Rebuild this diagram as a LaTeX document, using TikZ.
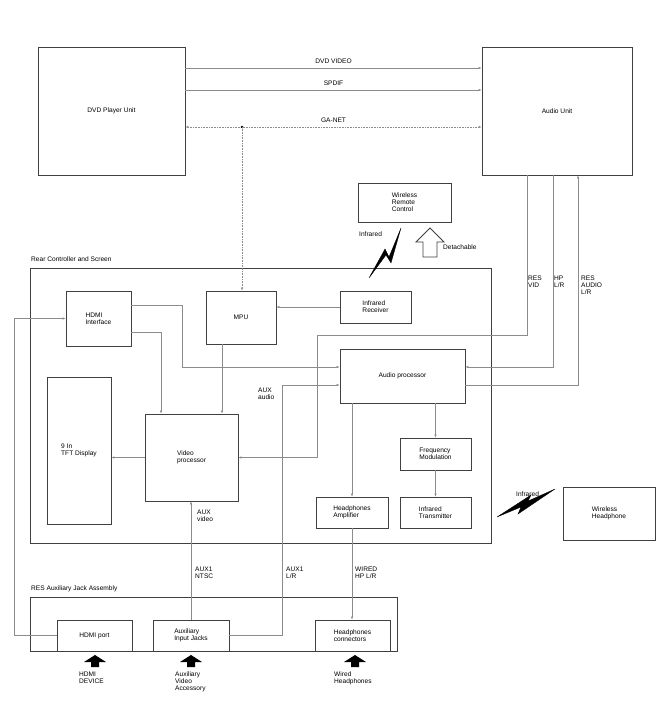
\documentclass[tikz,border=0pt]{standalone}
\usepackage{fontspec}
\setmainfont{Liberation Sans}
\usetikzlibrary{arrows.meta}
\tikzset{
	blk/.style={draw=black!75, line width=.8pt, align=left, inner sep=1pt, font=\fontsize{6.6}{7}\selectfont},
	grp/.style={draw=black!75, line width=.8pt},
	lbl/.style={anchor=north west, align=left, inner sep=0pt, font=\fontsize{6.6}{7}\selectfont},
	sig/.style={draw=black!45, line width=.45pt, -{Latex[length=3pt,width=2.4pt]}},
	bolt/.style={fill=black, draw=black, line width=.3pt},
}
\begin{document}
\begin{tikzpicture}[x=1pt, y=-1pt]
	\useasboundingbox (0,0) rectangle (667,708);
	% units
	\node[blk, minimum width=147pt, minimum height=128pt] (dvd)   at (111.5,111) {DVD Player Unit};
	\node[blk, minimum width=150pt, minimum height=128pt] (audio) at (557,111)   {Audio Unit};
	\node[blk, minimum width=93pt,  minimum height=39pt]  (wrc)   at (404.5,202.5) {Wireless\\Remote\\Control};
	\node[blk, minimum width=92pt,  minimum height=53pt]  (wh)    at (609,513.5) {Wireless\\Headphone};
	% rear controller and screen
	\draw[grp] (30,268) rectangle (491,543);
	\node[lbl] at (31,257) {Rear Controller and Screen};
	\node[blk, minimum width=65pt,  minimum height=55pt]  (hdmi) at (98.5,318.5) {HDMI\\Interface};
	\node[blk, minimum width=70pt,  minimum height=53pt]  (mpu)  at (241,317.5)  {MPU};
	\node[blk, minimum width=71pt,  minimum height=32pt]  (irr)  at (375.5,307)  {Infrared\\Receiver};
	\node[blk, minimum width=125pt, minimum height=54pt]  (ap)   at (402.5,376)  {Audio processor};
	\node[blk, minimum width=64pt,  minimum height=147pt] (tft)  at (79,450.5)   {9 In\\TFT Display};
	\node[blk, minimum width=93pt,  minimum height=87pt]  (vp)   at (191.5,457.5) {Video\\processor};
	\node[blk, minimum width=71pt,  minimum height=32pt]  (fm)   at (435.5,454)  {Frequency\\Modulation};
	\node[blk, minimum width=72pt,  minimum height=31pt]  (ha)   at (352,512.5)  {Headphones\\Amplifier};
	\node[blk, minimum width=71pt,  minimum height=31pt]  (it)   at (435.5,512.5) {Infrared\\Transmitter};
	% jack assembly
	\draw[grp] (30,597) rectangle (397,651);
	\node[lbl] at (31,586) {RES Auxiliary Jack Assembly};
	\node[blk, minimum width=75pt, minimum height=31pt] (hp)  at (94.5,635.5) {HDMI port};
	\node[blk, minimum width=76pt, minimum height=31pt] (aij) at (191,635.5)  {Auxiliary\\Input Jacks};
	\node[blk, minimum width=75pt, minimum height=31pt] (hc)  at (352.5,635.5) {Headphones\\connectors};
	% dvd to audio unit
	\draw[sig] ([yshift=43pt]dvd.east) -- ([yshift=43pt]audio.west) node[midway, above=1pt, font=\fontsize{6.6}{7}\selectfont]{DVD VIDEO};
	\draw[sig] ([yshift=21pt]dvd.east) -- ([yshift=21pt]audio.west) node[midway, above=1pt, font=\fontsize{6.6}{7}\selectfont]{SPDIF};
	\draw[sig, {Latex[length=3pt,width=2.4pt]}-{Latex[length=3pt,width=2.4pt]}, dash pattern=on 1pt off .6pt] ([yshift=-16pt]dvd.east) -- ([yshift=-16pt]audio.west) node[midway, above=1pt, font=\fontsize{6.6}{7}\selectfont]{GA-NET};
	\coordinate (ganet) at (242,127);
	\fill (ganet) circle (1.4pt);
	\draw[sig, dash pattern=on 1pt off .6pt] (ganet) -- (ganet |- mpu.north);
	% inside connections
	\draw[sig] (hp.west) -- ++(-42,0) |- (hdmi.west);
	\draw[sig] ([yshift=13.5pt]hdmi.east) -- ++(51,0) |- ([yshift=9pt]ap.west);
	\draw[sig] ([yshift=-13.5pt]hdmi.east) -| ([xshift=-30.5pt]vp.north);
	\draw[sig] ([xshift=-19pt]mpu.south) -- ([xshift=-19pt]mpu.south |- vp.north);
	\draw[sig] (irr.west) -- (irr.west -| mpu.east);
	\draw[sig] ([xshift=-30pt]audio.south) -- ++(0,160) -- ++(-210,0) |- (vp.east);
	\draw[sig] ([xshift=-4pt]audio.south) |- ([yshift=9pt]ap.east);
	\draw[sig] ([yshift=-9pt]ap.east) -| ([xshift=21pt]audio.south);
	\draw[sig] (aij.east) -- ++(53,0) |- ([yshift=-9pt]ap.west);
	\draw[sig] (aij.north) -- (aij.north |- vp.south);
	\draw[sig] ([xshift=-50.5pt]ap.south) -- ([xshift=-50.5pt]ap.south |- ha.north);
	\draw[sig] ([xshift=33pt]ap.south) -- (fm.north);
	\draw[sig] (fm.south) -- (it.north);
	\draw[sig] (ha.south) -- (ha.south |- hc.north);
	\draw[sig] (vp.west) -- (vp.west -| tft.east);
	% signal labels
	\node[lbl] at (528,276) {RES\\VID};
	\node[lbl] at (554,276) {HP\\L/R};
	\node[lbl] at (581,276) {RES\\AUDIO\\L/R};
	\node[lbl] at (258,388) {AUX\\audio};
	\node[lbl] at (197,510) {AUX\\video};
	\node[lbl] at (195,567) {AUX1\\NTSC};
	\node[lbl] at (286,567) {AUX1\\L/R};
	\node[lbl] at (355,567) {WIRED\\HP L/R};
	% wireless links
	\fill[bolt] (369,278) -- (385,249) -- (389,257) -- (401,228) -- (391,263) -- (386,255) -- cycle;
	\node[lbl] at (359,232) {Infrared};
	\fill[bolt] (497,517) -- (521,507) -- (518,514) -- (555,489) -- (528,501) -- (531,495) -- cycle;
	\node[lbl] at (516,492) {Infrared};
	\draw[black!75, line width=.8pt, fill=white] (423,257) -- (423,242) -- (416,242) -- (430,228) -- (444,242) -- (437,242) -- (437,257) -- cycle;
	\node[lbl] at (443,245) {Detachable};
	% inputs
	\foreach \x in {95,191,355}
		\fill (\x-4,667) -- (\x-4,662) -- (\x-11,662) -- (\x,655) -- (\x+11,662) -- (\x+4,662) -- (\x+4,667) -- cycle;
	\node[lbl] at (79,672) {HDMI\\DEVICE};
	\node[lbl] at (175,672) {Auxiliary\\Video\\Accessory};
	\node[lbl] at (334,672) {Wired\\Headphones};
\end{tikzpicture}
\end{document}
